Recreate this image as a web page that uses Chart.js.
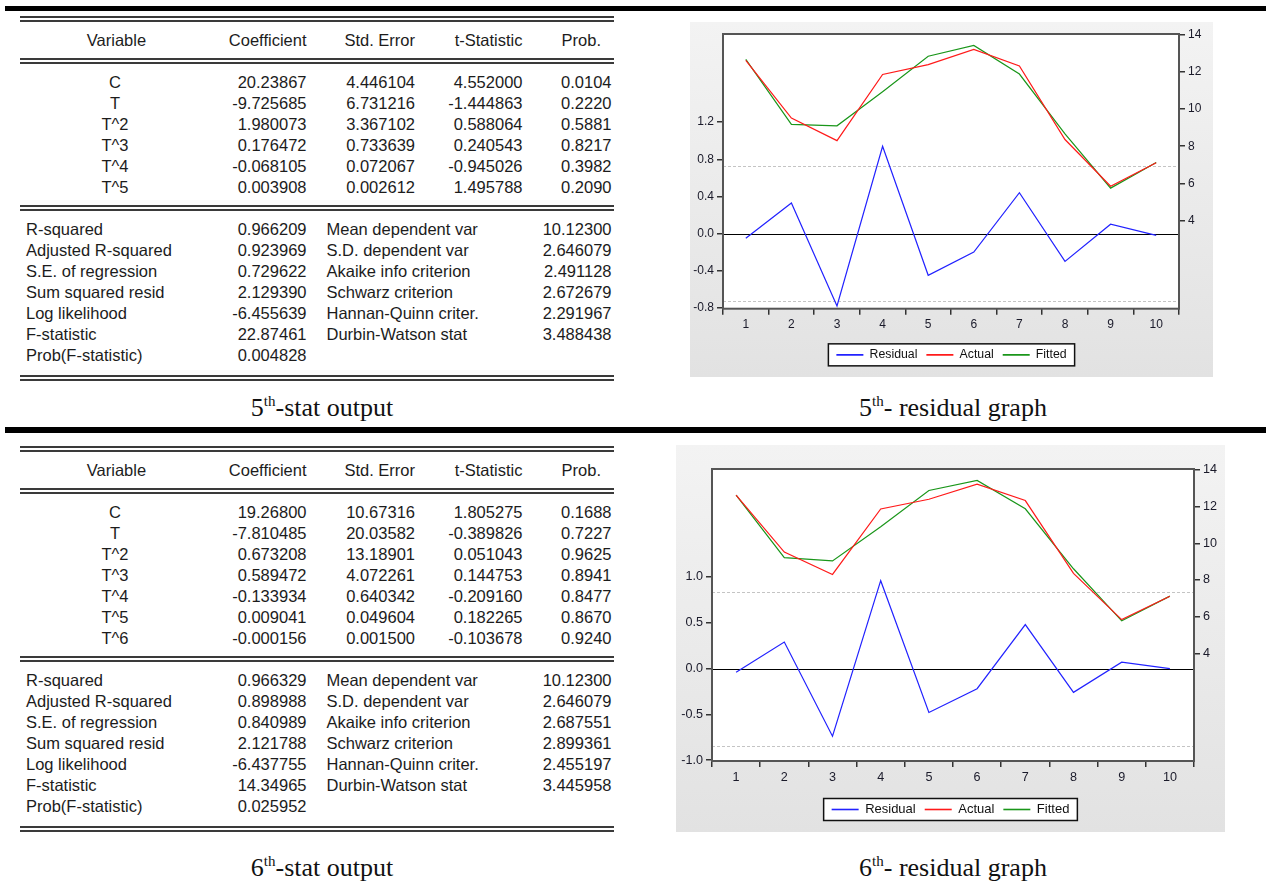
<!DOCTYPE html>
<html lang="en">
<head>
<meta charset="UTF-8">
<title>Polynomial regression output and residual graphs</title>
<script src="https://cdn.jsdelivr.net/npm/chart.js@4.4.1/dist/chart.umd.min.js"></script>
<style>
  html, body { margin: 0; padding: 0; background: #fff; }
  body { position: relative; width: 1266px; height: 888px; overflow: hidden; }
  .cell { position: absolute; font: 16.5px "Liberation Sans", Arial, sans-serif; line-height: 22px; white-space: pre; color: #1c1c1c; }
  .cap { position: absolute; font: 26px "Liberation Serif", "Times New Roman", serif; line-height: 28px; white-space: pre; color: #111; text-align: center; width: 400px; }
  .cap sup { font-size: 15px; vertical-align: 10px; line-height: 0; }
  .bar { position: absolute; background: #000; }
  .rule { position: absolute; background: #3a3a3a; }
  .panel { position: absolute; background: linear-gradient(#f3f3f3, #e2e2e2); }
  canvas { position: absolute; }
</style>
</head>
<body>
<div class="panel" style="left:690px; top:22px; width:523px; height:355px;"></div>
<div class="panel" style="left:676px; top:445px; width:549px; height:387px;"></div>
<canvas id="graph5" width="523" height="355" style="left:690px; top:22px;"></canvas>
<canvas id="graph6" width="549" height="387" style="left:676px; top:445px;"></canvas>
<script>
// ---- data ----
const obs = ['1', '2', '3', '4', '5', '6', '7', '8', '9', '10'];
const actual = [12.63, 9.52, 8.30, 11.87, 12.40, 13.22, 12.33, 8.36, 5.84, 7.11];

const resid5 = [-0.05, 0.33, -0.78, 0.94, -0.45, -0.20, 0.44, -0.30, 0.10, -0.02];
const fitted5 = [12.68, 9.18, 9.10, 10.94, 12.85, 13.43, 11.89, 8.66, 5.74, 7.12];
const resid6 = [-0.04, 0.29, -0.74, 0.96, -0.48, -0.22, 0.48, -0.26, 0.07, 0.00];
const fitted6 = [12.63, 9.22, 9.04, 10.90, 12.88, 13.43, 11.88, 8.61, 5.77, 7.12];

const seReg5 = 0.729622;
const seReg6 = 0.840989;
const leftTicks5 = [-0.8, -0.4, 0, 0.4, 0.8, 1.2];
const leftTicks6 = [-1.0, -0.5, 0, 0.5, 1.0];
const rightTicks = [4, 6, 8, 10, 12, 14];

const tableHeader = ['Variable', 'Coefficient', 'Std. Error', 't-Statistic', 'Prob.'];
const coef5 = [
  ['C', '20.23867', '4.446104', '4.552000', '0.0104'],
  ['T', '-9.725685', '6.731216', '-1.444863', '0.2220'],
  ['T^2', '1.980073', '3.367102', '0.588064', '0.5881'],
  ['T^3', '0.176472', '0.733639', '0.240543', '0.8217'],
  ['T^4', '-0.068105', '0.072067', '-0.945026', '0.3982'],
  ['T^5', '0.003908', '0.002612', '1.495788', '0.2090']
];
const coef6 = [
  ['C', '19.26800', '10.67316', '1.805275', '0.1688'],
  ['T', '-7.810485', '20.03582', '-0.389826', '0.7227'],
  ['T^2', '0.673208', '13.18901', '0.051043', '0.9625'],
  ['T^3', '0.589472', '4.072261', '0.144753', '0.8941'],
  ['T^4', '-0.133934', '0.640342', '-0.209160', '0.8477'],
  ['T^5', '0.009041', '0.049604', '0.182265', '0.8670'],
  ['T^6', '-0.000156', '0.001500', '-0.103678', '0.9240']
];
const statNames = ['R-squared', 'Adjusted R-squared', 'S.E. of regression', 'Sum squared resid',
  'Log likelihood', 'F-statistic', 'Prob(F-statistic)'];
const statNames2 = ['Mean dependent var', 'S.D. dependent var', 'Akaike info criterion',
  'Schwarz criterion', 'Hannan-Quinn criter.', 'Durbin-Watson stat'];
const stats5 = ['0.966209', '0.923969', '0.729622', '2.129390', '-6.455639', '22.87461', '0.004828'];
const stats5b = ['10.12300', '2.646079', '2.491128', '2.672679', '2.291967', '3.488438'];
const stats6 = ['0.966329', '0.898988', '0.840989', '2.121788', '-6.437755', '14.34965', '0.025952'];
const stats6b = ['10.12300', '2.646079', '2.687551', '2.899361', '2.455197', '3.445958'];

// ---- tables ----
function txt(s, x, y, align) {
  const d = document.createElement('div');
  d.className = 'cell';
  d.textContent = s;
  const w = 260;
  d.style.top = (y - 11) + 'px';
  if (align === 'left') {
    d.style.left = x + 'px';
  } else if (align === 'right') {
    d.style.left = (x - w) + 'px'; d.style.width = w + 'px'; d.style.textAlign = 'right';
  } else {
    d.style.left = (x - w / 2) + 'px'; d.style.width = w + 'px'; d.style.textAlign = 'center';
  }
  document.body.appendChild(d);
}

function box(cls, x, y, w, h) {
  const d = document.createElement('div');
  d.className = cls;
  d.style.left = x + 'px'; d.style.top = y + 'px';
  d.style.width = w + 'px'; d.style.height = h + 'px';
  document.body.appendChild(d);
}

function doubleRule(y) {
  box('rule', 20, y, 594, 2);
  box('rule', 20, y + 4, 594, 1.5);
}

function caption(n, rest, cx, y) {
  const d = document.createElement('div');
  d.className = 'cap';
  d.style.left = (cx - 200) + 'px';
  d.style.top = (y - 14) + 'px';
  d.innerHTML = n + '<sup>th</sup>' + rest;
  document.body.appendChild(d);
}

function statTable(top, coefRows, vals, vals2) {
  doubleRule(top);
  const cols = [115, 306.5, 415, 522.5, 601];
  txt(tableHeader[0], 116.5, top + 24, 'center');
  for (let i = 1; i < 5; i++) txt(tableHeader[i], cols[i], top + 24, 'right');
  doubleRule(top + 42);
  let y = top + 66;
  coefRows.forEach(r => {
    txt(r[0], 115, y, 'center');
    txt(r[1], 306.5, y, 'right');
    txt(r[2], 415, y, 'right');
    txt(r[3], 522.5, y, 'right');
    txt(r[4], 611.5, y, 'right');
    y += 21;
  });
  const mid = y - 21 + 18;
  doubleRule(mid);
  y = mid + 24;
  statNames.forEach((name, i) => {
    txt(name, 26, y + i * 21, 'left');
    txt(vals[i], 306.5, y + i * 21, 'right');
    if (i < statNames2.length) {
      txt(statNames2[i], 326.5, y + i * 21, 'left');
      txt(vals2[i], 611.5, y + i * 21, 'right');
    }
  });
  doubleRule(y + 6 * 21 + 20);
}

box('bar', 5, 6, 1261, 5);
box('bar', 5, 427, 1261, 6);
statTable(16, coef5, stats5, stats5b);
statTable(446, coef6, stats6, stats6b);
caption(5, '-stat output', 322, 408);
caption(5, '- residual graph', 953, 408);
caption(6, '-stat output', 322, 868);
caption(6, '- residual graph', 953, 868);

// ---- charts ----
const frame = {
  id: 'frame',
  beforeDraw(chart) {
    const { ctx, chartArea: a } = chart;
    ctx.save();
    ctx.fillStyle = '#fff';
    ctx.fillRect(a.left, a.top, a.right - a.left, a.bottom - a.top);
    const hb = chart.legend && chart.legend.legendHitBoxes;
    if (hb && hb.length) {
      const x0 = hb[0].left - 8;
      const x1 = hb[hb.length - 1].left + hb[hb.length - 1].width + 8;
      const cy = hb[0].top + hb[0].height / 2;
      ctx.fillStyle = '#fff';
      ctx.fillRect(x0, cy - 11, x1 - x0, 22);
      ctx.strokeStyle = '#111';
      ctx.lineWidth = 1.5;
      ctx.strokeRect(x0, cy - 11, x1 - x0, 22);
    }
    ctx.restore();
  },
  beforeDatasetsDraw(chart, args, opts) {
    const { ctx, chartArea: a } = chart;
    const y = chart.scales.y;
    ctx.save();
    ctx.strokeStyle = '#c4c4c4';
    ctx.lineWidth = 1;
    ctx.setLineDash([3, 2]);
    [opts.se, -opts.se].forEach(v => {
      const py = Math.round(y.getPixelForValue(v)) + 0.5;
      ctx.beginPath(); ctx.moveTo(a.left, py); ctx.lineTo(a.right, py); ctx.stroke();
    });
    ctx.setLineDash([]);
    ctx.strokeStyle = '#000';
    const p0 = Math.round(y.getPixelForValue(0)) + 0.5;
    ctx.beginPath(); ctx.moveTo(a.left, p0); ctx.lineTo(a.right, p0); ctx.stroke();
    ctx.restore();
  },
  afterDatasetsDraw(chart) {
    const { ctx, chartArea: a } = chart;
    ctx.save();
    ctx.strokeStyle = '#555';
    ctx.lineWidth = 2;
    ctx.strokeRect(a.left, a.top, a.right - a.left, a.bottom - a.top);
    ctx.restore();
  }
};

function legendItems(chart) {
  return chart.data.datasets.map((ds, i) => ({
    text: ds.label,
    datasetIndex: i,
    fillStyle: ds.borderColor,
    strokeStyle: ds.borderColor,
    fontColor: '#111',
    lineWidth: 1.6,
    pointStyle: 'line',
    hidden: false
  }));
}

function residualGraph(id, resid, fitted, se, leftTicks, lim, sizes) {
  const font = { family: '"Liberation Sans", Arial, sans-serif', size: sizes.font };
  const legendFont = { family: '"Liberation Sans", Arial, sans-serif', size: sizes.legendFont };
  const tickGrid = { drawOnChartArea: false, drawTicks: true, tickLength: 6, color: '#333', lineWidth: 1.5 };
  new Chart(document.getElementById(id), {
    type: 'line',
    data: {
      labels: obs,
      datasets: [
        { label: 'Residual', data: resid, borderColor: '#2222ff', backgroundColor: '#2222ff', yAxisID: 'y' },
        { label: 'Actual', data: actual, borderColor: '#ff1a1a', backgroundColor: '#ff1a1a', yAxisID: 'y1' },
        { label: 'Fitted', data: fitted, borderColor: '#1a961a', backgroundColor: '#1a961a', yAxisID: 'y1' }
      ]
    },
    options: {
      responsive: false,
      animation: false,
      events: [],
      elements: { line: { borderWidth: 1.2, tension: 0 }, point: { radius: 0 } },
      layout: { padding: { top: sizes.top, bottom: sizes.bottom, left: 0, right: 0 } },
      plugins: {
        tooltip: { enabled: false },
        frame: { se: se },
        legend: {
          position: 'bottom',
          labels: {
            usePointStyle: true, pointStyle: 'line', pointStyleWidth: 27,
            padding: 9, color: '#111', font: legendFont,
            generateLabels: legendItems
          }
        }
      },
      scales: {
        x: {
          offset: true,
          grid: Object.assign({ offset: true }, tickGrid),
          border: { display: false },
          ticks: { color: '#1a1a2a', font: font, padding: 3, maxRotation: 0, autoSkip: false },
          afterFit: s => { s.height = sizes.xh; }
        },
        y: {
          position: 'left',
          min: lim[0], max: lim[1],
          afterBuildTicks: s => { s.ticks = leftTicks.map(v => ({ value: v })); },
          grid: tickGrid,
          border: { display: false },
          ticks: { color: '#1a1a2a', font: font, padding: 3, callback: v => v.toFixed(1) },
          afterFit: s => { s.width = sizes.yl; }
        },
        y1: {
          position: 'right',
          min: lim[2], max: lim[3],
          afterBuildTicks: s => { s.ticks = rightTicks.map(v => ({ value: v })); },
          grid: tickGrid,
          border: { display: false },
          ticks: { color: '#1a1a2a', font: font, padding: 3, callback: v => String(v) },
          afterFit: s => { s.width = sizes.yr; }
        }
      }
    },
    plugins: [frame]
  });
}

residualGraph('graph5', resid5, fitted5, seReg5, leftTicks5, [-0.81, 2.15, -0.76, 14.05],
  { top: 12, bottom: 6, xh: 31, yl: 33, yr: 34, font: 12, legendFont: 12.3 });
residualGraph('graph6', resid6, fitted6, seReg6, leftTicks6, [-1.01, 2.18, -1.87, 14.05],
  { top: 24, bottom: 6, xh: 33, yl: 36, yr: 31, font: 12.6, legendFont: 13 });
</script>
</body>
</html>
